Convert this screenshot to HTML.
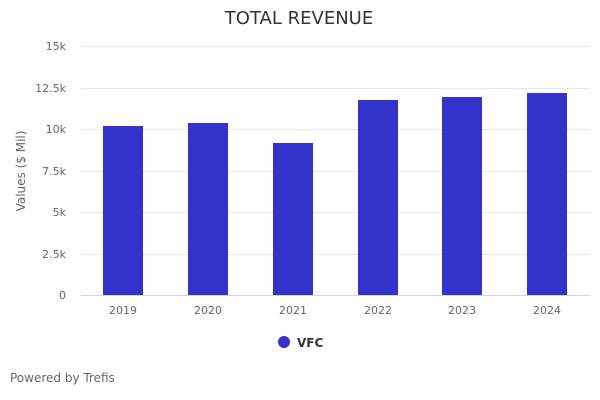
<!DOCTYPE html>
<html><head><style>body{margin:0;background:#fff}svg{display:block;font-family:"DejaVu Sans","Liberation Sans",sans-serif}</style></head><body>
<svg width="600" height="400" xmlns="http://www.w3.org/2000/svg">
<rect width="600" height="400" fill="#fff"/>
<text x="299" y="24" text-anchor="middle" font-size="18" fill="#333">TOTAL REVENUE</text>
<g stroke="#e6e6e6" stroke-width="1">
<line x1="81" x2="590" y1="46.5" y2="46.5"/><line x1="81" x2="590" y1="88.5" y2="88.5"/><line x1="81" x2="590" y1="129.5" y2="129.5"/><line x1="81" x2="590" y1="171.5" y2="171.5"/><line x1="81" x2="590" y1="212.5" y2="212.5"/><line x1="81" x2="590" y1="254.5" y2="254.5"/>
</g>
<g font-size="11" fill="#666" text-anchor="end">
<text x="66" y="50">15k</text><text x="66" y="92">12.5k</text><text x="66" y="133">10k</text><text x="66" y="175">7.5k</text><text x="66" y="216">5k</text><text x="66" y="258">2.5k</text><text x="66" y="299">0</text>
</g>
<text transform="translate(25,171) rotate(-90)" text-anchor="middle" font-size="12" fill="#666">Values ($ Mil)</text>
<g fill="#3333cc">
<rect x="103" y="126" width="40" height="169"/><rect x="188" y="123" width="40" height="172"/><rect x="273" y="143" width="40" height="152"/><rect x="358" y="100" width="40" height="195"/><rect x="442" y="97" width="40" height="198"/><rect x="527" y="93" width="40" height="202"/>
</g>
<line x1="81" x2="590" y1="295.5" y2="295.5" stroke="#ccd6eb"/>
<g font-size="11" fill="#666" text-anchor="middle">
<text x="123" y="314">2019</text><text x="208" y="314">2020</text><text x="293" y="314">2021</text><text x="378" y="314">2022</text><text x="462" y="314">2023</text><text x="547" y="314">2024</text>
</g>
<circle cx="284" cy="342" r="6" fill="#3333cc"/>
<text x="297" y="347" font-size="12" font-weight="bold" fill="#333">VFC</text>
<text x="10" y="382" font-size="12" fill="#666">Powered by Trefis</text>
</svg>
</body></html>
